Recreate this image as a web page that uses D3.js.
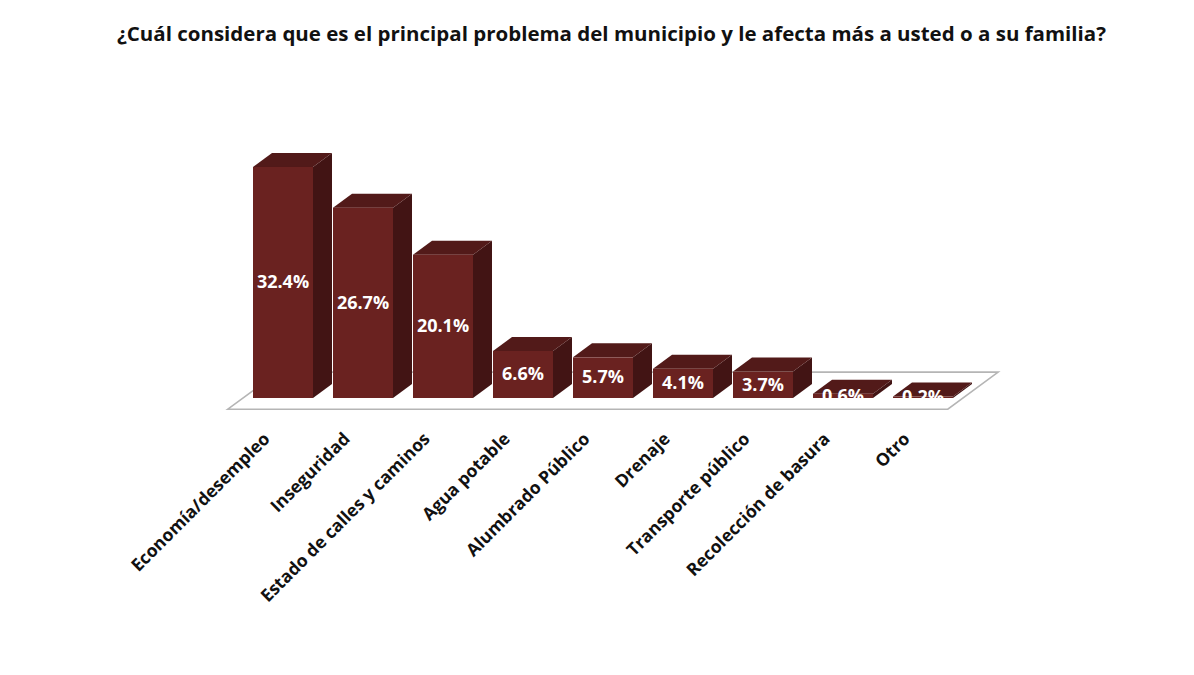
<!DOCTYPE html>
<html><head><meta charset="utf-8">
<script src="https://cdn.jsdelivr.net/npm/d3@7"></script>
<style>body{margin:0;background:#fff}svg{display:block}</style>
</head><body>
<script>
const title = "¿Cuál considera que es el principal problema del municipio y le afecta más a usted o a su familia?";
const categories = ["Economía/desempleo","Inseguridad","Estado de calles y caminos","Agua potable","Alumbrado Público","Drenaje","Transporte público","Recolección de basura","Otro"];
const values = [32.4, 26.7, 20.1, 6.6, 5.7, 4.1, 3.7, 0.6, 0.2];
const valueLabels = ["32.4%","26.7%","20.1%","6.6%","5.7%","4.1%","3.7%","0.6%","0.2%"];

const W = 1194, H = 675;
const svg = d3.select("body").append("svg").attr("width", W).attr("height", H);
const font = "'Open Sans', 'Liberation Sans', sans-serif";

const x = d3.scaleBand().domain(categories).range([243, 963]).paddingInner(0.25).paddingOuter(0.125);
const y = d3.scaleLinear().domain([0, 35]).range([398, 398 - 35 * 7.13]);
const dep = [19, -14];
const base = y(0);

// title
svg.append("text").attr("x", 117).attr("y", 41)
  .attr("textLength", 989).attr("lengthAdjust", "spacingAndGlyphs")
  .attr("font-family", font).attr("font-weight", 700).attr("font-size", 19)
  .attr("fill", "#111").text(title);

// floor
const [fx0, fx1] = x.range();
const ff = -0.8, fb = 1.85;
const floor = [
  [fx0 + ff * dep[0], base + ff * dep[1]],
  [fx1 + ff * dep[0], base + ff * dep[1]],
  [fx1 + fb * dep[0], base + fb * dep[1]],
  [fx0 + fb * dep[0], base + fb * dep[1]]
];
svg.append("polygon").attr("points", floor.map(p => p.join(",")).join(" "))
  .attr("fill", "#fff").attr("stroke", "#b5b5b5").attr("stroke-width", 1.6);

const g = svg.append("g");
categories.forEach((c, i) => {
  const x0 = x(c), x1 = x0 + x.bandwidth(), yt = y(values[i]), yb = base;
  const [dx, dy] = dep;
  g.append("polygon").attr("points", [[x1, yt], [x1 + dx, yt + dy], [x1 + dx, yb + dy], [x1, yb]].map(p => p.join(",")).join(" "))
    .attr("fill", "#421414");
  g.append("polygon").attr("points", [[x0, yt], [x0 + dx, yt + dy], [x1 + dx, yt + dy], [x1, yt]].map(p => p.join(",")).join(" "))
    .attr("fill", "#521a19");
  g.append("rect").attr("x", x0).attr("y", yt).attr("width", x.bandwidth()).attr("height", yb - yt)
    .attr("fill", "#6a2220");
  g.append("text").attr("x", x0 + x.bandwidth() / 2).attr("y", (yt + yb) / 2 + 1)
    .attr("text-anchor", "middle").attr("dominant-baseline", "middle")
    .attr("font-family", font).attr("font-weight", 700).attr("font-size", 18)
    .attr("fill", "#fff").text(valueLabels[i]);
});

// category labels
svg.append("g").selectAll("text").data(categories).join("text")
  .attr("transform", d => `translate(${x(d) + x.bandwidth() / 2 - 12},${440}) rotate(-45)`)
  .attr("text-anchor", "end")
  .attr("font-family", font).attr("font-weight", 700).attr("font-size", 17.5)
  .attr("fill", "#111").text(d => d);
</script>
</body></html>
